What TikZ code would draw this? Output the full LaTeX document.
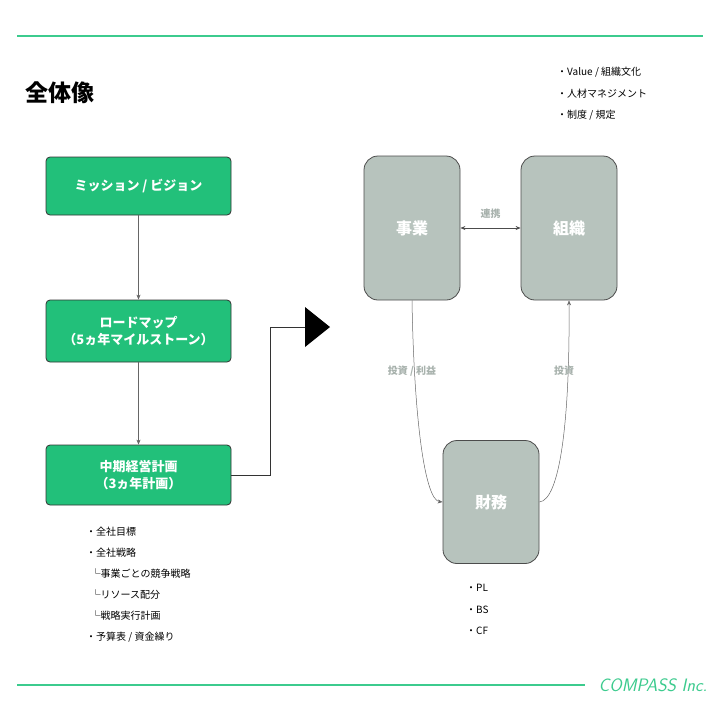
\documentclass[tikz,border=0pt]{standalone}
\usepackage{fontspec}
\newfontfamily\cjk{Noto Sans CJK JP}
\usetikzlibrary{arrows.meta}
\definecolor{lgreen}{HTML}{3CCB8E}
\definecolor{bgreen}{HTML}{22C07A}
\definecolor{gbox}{HTML}{B7C3BD}
\definecolor{lbl}{HTML}{A8B2AD}
\begin{document}
\begin{tikzpicture}[x=1pt,y=-1pt,font=\cjk,
  gstep/.style={draw=black!80,fill=bgreen,rounded corners=4pt,line width=0.8pt,text=white,font=\cjk\bfseries\fontsize{13}{17}\selectfont,align=center,minimum width=185pt},
  gray/.style={draw=black!70,fill=gbox,rounded corners=14pt,line width=0.8pt,text=white,font=\cjk\bfseries\fontsize{16}{19}\selectfont,minimum width=96pt},
  conn/.style={draw=black!60,line width=0.5pt,-{Stealth[length=5pt,width=4pt]}},
  lab/.style={text=lbl,font=\cjk\bfseries\fontsize{10}{12}\selectfont},
  txt/.style={font=\cjk\fontsize{10}{21.5}\selectfont,align=left,anchor=north west,inner sep=0pt}]
\useasboundingbox (0,0) rectangle (721,721);
\fill[white] (0,0) rectangle (721,721);
\draw[lgreen,line width=2.5pt] (17,36) -- (703,36);
\draw[lgreen,line width=2.5pt] (17,685) -- (585,685);
\node[text=lgreen,font=\sffamily\itshape\fontsize{18}{20}\selectfont,anchor=west] (logo) at (595,685) {COMPASS Inc.};
\node[font=\cjk\bfseries\fontsize{23}{26}\selectfont,anchor=west] (title) at (22,93) {全体像};
\node[gstep,minimum height=58pt] (b1) at (138.5,186) {ミッション / ビジョン};
\node[gstep,minimum height=62pt] (b2) at (138.5,331) {ロードマップ\\（5ヵ年マイルストーン）};
\node[gstep,minimum height=60pt] (b3) at (138.5,475) {中期経営計画\\（3ヵ年計画）};
\draw[conn] (b1) -- (b2);
\draw[conn] (b2) -- (b3);
\coordinate (t) at (305,327);
\draw[black!80,line width=0.8pt] (b3.east) -- (270,475) -- (270,327) -- (t);
\fill[black] (305,307) -- (330,327) -- (305,347) -- cycle;
\node[gray,minimum height=144pt] (biz) at (412,228) {事業};
\node[gray,minimum height=144pt] (org) at (569,228) {組織};
\node[gray,minimum height=123pt] (fin) at (491,502) {財務};
\draw[draw=black!70,line width=0.7pt,{Stealth[length=5pt,width=4pt]}-{Stealth[length=5pt,width=4pt]}] (biz.east) -- (org.west) node[midway,above=6pt,lab] {連携};
\draw[conn] (biz.south) .. controls (414,420) and (425,500) .. (fin.west);
\node[lab] (l1) at (412,371) {投資 / 利益};
\draw[conn] (fin.east) .. controls (560,500) and (570,420) .. (org.south);
\node[lab] (l2) at (564,371) {投資};
\node[txt] (tr) at (557,67) {・Value / 組織文化\\・人材マネジメント\\・制度 / 規定};
\node[txt] (pl) at (466,584) {・PL\\・BS\\・CF};
\node[txt,font=\cjk\fontsize{10}{21}\selectfont] (ll) at (86,527) {・全社目標\\・全社戦略\\\ \ └事業ごとの競争戦略\\\ \ └リソース配分\\\ \ └戦略実行計画\\・予算表 / 資金繰り};
\end{tikzpicture}
\end{document}
